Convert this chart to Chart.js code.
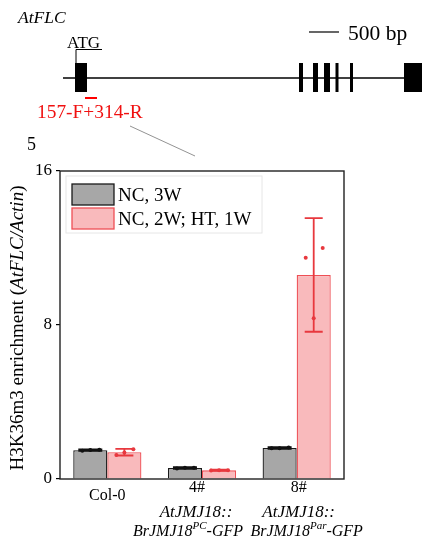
<!DOCTYPE html>
<html lang="en">

<head>
  <meta charset="UTF-8">
  <meta name="viewport" content="width=device-width, initial-scale=1.0">
  <script src="https://cdn.jsdelivr.net/npm/chart.js@4.4.1/dist/chart.umd.min.js"></script>
  <title>H3K36me3 AtFLC</title>
  <style>
    body { margin: 0; background: #fff; }
    #wrap { position: relative; width: 422px; height: 543px; }
    #chart, #gene { position: absolute; left: 0; top: 0; }
    #gene text { font-family: "Liberation Serif", serif; }
  </style>
</head>

<body>
  <div id="wrap">
    <canvas id="chart" width="422" height="543"></canvas>
    <!-- gene model of AtFLC with the amplicon position -->
    <svg id="gene" width="422" height="160">
      <text x="18" y="23" font-size="17.5" font-style="italic">AtFLC</text>
      <line x1="309" y1="32" x2="339" y2="32" stroke="#000" stroke-width="1.2"/>
      <text x="348" y="40" font-size="21.5">500 bp</text>
      <text x="67" y="48" font-size="17">ATG</text>
      <polyline points="76,63 76,49.5 102,49.5" fill="none" stroke="#000" stroke-width="1"/>
      <line x1="63" y1="78" x2="422" y2="78" stroke="#000" stroke-width="1.3"/>
      <rect x="75" y="63" width="12" height="29" fill="#000"/>
      <rect x="299" y="63" width="4" height="29" fill="#000"/>
      <rect x="313" y="63" width="5" height="29" fill="#000"/>
      <rect x="324" y="63" width="6" height="29" fill="#000"/>
      <rect x="335.5" y="63" width="3" height="29" fill="#000"/>
      <rect x="350" y="63" width="3" height="29" fill="#000"/>
      <rect x="404" y="63" width="18" height="29" fill="#000"/>
      <line x1="85" y1="98" x2="97" y2="98" stroke="#f00" stroke-width="2"/>
      <text x="37" y="118" font-size="19.4" fill="#f01010">157-F+314-R</text>
      <line x1="130" y1="126" x2="195" y2="156" stroke="#777" stroke-width="0.8"/>
      <text x="27" y="150" font-size="18">5</text>
    </svg>
  </div>

  <script>
    const categories = ['Col-0', '4#', '8#'];
    const seriesNames = ['NC, 3W', 'NC, 2W; HT, 1W'];
    const yTicks = [0, 8, 16];

    // NC, 3W
    const meanNC = [1.50, 0.57, 1.61];
    const errNC = [0.04, 0.04, 0.04];
    const repsNC = [[1.47, 1.52, 1.51], [0.55, 0.58, 0.58], [1.60, 1.63, 1.60]];

    // NC, 2W; HT, 1W
    const meanHT = [1.39, 0.45, 10.6];
    const errHT = [0.17, 0.03, 2.95];
    const repsHT = [[1.25, 1.55, 1.38], [0.44, 0.46, 0.45], [11.5, 12.0, 8.35]];

    // second/third line of the x labels (italic construct names)
    const labelLines = [
      null,
      ['AtJMJ18::', 'BrJMJ18', 'PC', '-GFP'],
      ['AtJMJ18::', 'BrJMJ18', 'Par', '-GFP']
    ];
    // horizontal nudges (line id, line 2, line 3) so the long names don't collide
    const lineShift = [[0, 0, 0], [-5, -6, -14], [2, 2, 10]];

    const SERIF = '"Liberation Serif", "Times New Roman", serif';
    const grayFill = '#a7a7a7', grayLine = '#1a1a1a';
    const pinkFill = '#f9babc', pinkLine = '#ee4f55', redBar = '#e8383e';

    const errors = [errNC, errHT];
    const reps = [repsNC, repsHT];
    const errColors = ['#111', redBar];
    const jitter = [-8, 9, 0];

    const extras = {
      id: 'extras',
      afterDatasetsDraw(chart) {
        const ctx = chart.ctx;
        const ys = chart.scales.y;
        const area = chart.chartArea;

        // error bars and replicate points
        chart.data.datasets.forEach((ds, i) => {
          const meta = chart.getDatasetMeta(i);
          meta.data.forEach((bar, j) => {
            const m = ds.data[j], e = errors[i][j];
            const yt = ys.getPixelForValue(m + e), yb = ys.getPixelForValue(m - e);
            const cap = i === 0 ? 12 : 9;
            ctx.save();
            ctx.strokeStyle = errColors[i];
            ctx.lineWidth = 1.8;
            ctx.beginPath();
            ctx.moveTo(bar.x, yt); ctx.lineTo(bar.x, yb);
            ctx.moveTo(bar.x - cap, yt); ctx.lineTo(bar.x + cap, yt);
            ctx.moveTo(bar.x - cap, yb); ctx.lineTo(bar.x + cap, yb);
            ctx.stroke();
            ctx.fillStyle = errColors[i];
            reps[i][j].forEach((v, k) => {
              ctx.beginPath();
              ctx.arc(bar.x + jitter[k], ys.getPixelForValue(v), 2, 0, Math.PI * 2);
              ctx.fill();
            });
            ctx.restore();
          });
        });

        // frame
        ctx.save();
        ctx.strokeStyle = '#222';
        ctx.lineWidth = 1.4;
        ctx.strokeRect(area.left, area.top, area.right - area.left, area.bottom - area.top);

        // legend inside the plot
        ctx.strokeStyle = '#e6e6e6';
        ctx.lineWidth = 1;
        ctx.strokeRect(area.left + 6, area.top + 5, 196, 57);
        const fills = [grayFill, pinkFill], lines = [grayLine, pinkLine];
        seriesNames.forEach((name, i) => {
          const bx = area.left + 12, by = area.top + 13 + i * 24;
          ctx.fillStyle = fills[i];
          ctx.fillRect(bx, by, 42, 21);
          ctx.strokeStyle = lines[i];
          ctx.lineWidth = 1.3;
          ctx.strokeRect(bx, by, 42, 21);
          ctx.fillStyle = '#000';
          ctx.font = '19px ' + SERIF;
          ctx.textBaseline = 'alphabetic';
          ctx.fillText(name, bx + 46, by + 17);
        });

        // x labels
        const xs = chart.scales.x;
        ctx.textAlign = 'center';
        categories.forEach((c, j) => {
          const cx = xs.getPixelForValue(j);
          ctx.font = '16px ' + SERIF;
          ctx.fillStyle = '#000';
          if (!labelLines[j]) {
            ctx.fillText(c, cx, area.bottom + 21);
            return;
          }
          ctx.fillText(c, cx + lineShift[j][0], area.bottom + 13);
          const [l1, base, sup, tail] = labelLines[j];
          ctx.font = 'italic 17px ' + SERIF;
          ctx.fillText(l1, cx + lineShift[j][1], area.bottom + 38);
          const big = 'italic 16px ' + SERIF, small = 'italic 11px ' + SERIF;
          ctx.font = big; const w1 = ctx.measureText(base).width, w3 = ctx.measureText(tail).width;
          ctx.font = small; const w2 = ctx.measureText(sup).width;
          let x = cx + lineShift[j][2] - (w1 + w2 + w3) / 2;
          ctx.textAlign = 'left';
          ctx.font = big; ctx.fillText(base, x, area.bottom + 57); x += w1;
          ctx.font = small; ctx.fillText(sup, x, area.bottom + 50); x += w2;
          ctx.font = big; ctx.fillText(tail, x, area.bottom + 57);
          ctx.textAlign = 'center';
        });

        // y title with italic gene/reference names
        const parts = [['H3K36m3 enrichment (', ''], ['AtFLC/Actin', 'italic '], [')', '']];
        ctx.translate(18, (area.top + area.bottom) / 2 + 3);
        ctx.rotate(-Math.PI / 2);
        let total = 0;
        parts.forEach(p => { ctx.font = p[1] + '19px ' + SERIF; total += ctx.measureText(p[0]).width; });
        let px = -total / 2;
        ctx.textAlign = 'left';
        ctx.textBaseline = 'middle';
        parts.forEach(p => {
          ctx.font = p[1] + '19px ' + SERIF;
          ctx.fillText(p[0], px, 0);
          px += ctx.measureText(p[0]).width;
        });
        ctx.restore();
      }
    };

    new Chart('chart', {
      type: 'bar',
      data: {
        labels: categories,
        datasets: [{
          label: seriesNames[0],
          data: meanNC,
          backgroundColor: grayFill,
          borderColor: grayLine,
          borderWidth: 1.3
        }, {
          label: seriesNames[1],
          data: meanHT,
          backgroundColor: pinkFill,
          borderColor: pinkLine,
          borderWidth: 1.3
        }]
      },
      plugins: [extras],
      options: {
        responsive: false,
        devicePixelRatio: 1,
        animation: false,
        layout: { padding: { top: 171, right: 78, bottom: 0, left: 0 } },
        categoryPercentage: 0.72,
        barPercentage: 1,
        plugins: {
          legend: { display: false },
          tooltip: { enabled: false }
        },
        scales: {
          x: {
            grid: { display: false },
            border: { display: false },
            ticks: { display: false },
            afterFit: s => { s.height = 64; }
          },
          y: {
            min: 0,
            max: 16,
            afterBuildTicks: s => { s.ticks = yTicks.map(v => ({ value: v })); },
            border: { display: false },
            grid: { drawOnChartArea: false, tickLength: 4, color: '#000', lineWidth: 1.2 },
            ticks: {
              padding: 4,
              color: '#000',
              font: { family: SERIF, size: 17 }
            },
            afterFit: s => { s.width = 60; }
          }
        }
      }
    });
  </script>
</body>

</html>
